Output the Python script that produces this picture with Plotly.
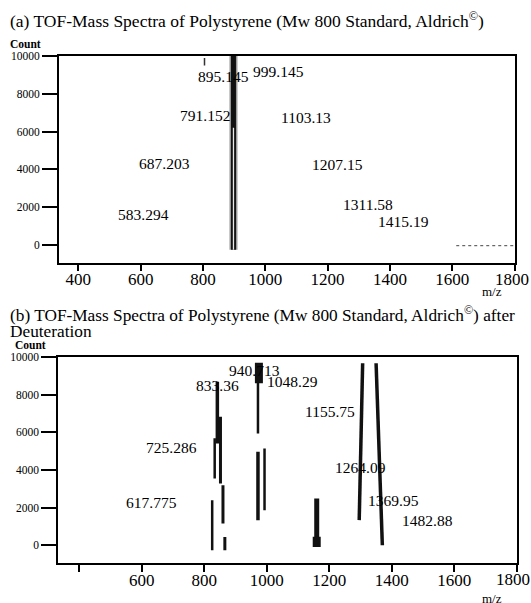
import plotly.graph_objects as go

FONT = "Liberation Serif, Times New Roman, serif"

# ---------------- data: panel (a) ----------------
a_label_text = ["583.294", "687.203", "791.152", "895.145", "999.145",
                "1103.13", "1207.15", "1311.58", "1415.19"]
a_label_mz = [608, 678, 807, 866, 1041, 1132, 1231, 1329, 1443]
a_label_count = [1590, 4290, 6830, 8900, 9170, 6720, 4270, 2150, 1230]

a_peak_mz = [898]
a_peak_top = [10000]
a_peak_split = [6200]
a_peak_bottom = [-250]

a_mark_mz = [805]
a_mark_count = [9900, 9500]

a_noise_mz = [1613, 1800]
a_noise_count = [-37, -37]

# ---------------- data: panel (b) ----------------
b_label_text = ["617.775", "725.286", "833.36", "940.713", "1048.29",
                "1155.75", "1264.09", "1369.95", "1482.88"]
b_label_mz = [630, 694, 842, 962, 1082, 1202, 1300, 1407, 1516]
b_label_count = [2270, 5200, 8510, 9270, 8690, 7130, 4130, 2360, 1330]

# vertical spectrum strokes: (m/z start, count start, m/z end, count end)
b_seg_mz0 = [842, 852, 860, 866, 833.5, 825.5, 975, 972, 972, 993, 1160, 1160, 1307, 1350]
b_seg_c0 = [8690, 6830, 3190, 440, 5680, 2390, 9700, 8620, 4960, 5140, 2480, 450, 9665, 9665]
b_seg_mz1 = [842, 852, 860, 866, 833.5, 825.5, 975, 972, 972, 993, 1160, 1160, 1296, 1370]
b_seg_c1 = [5410, 3280, 1150, -270, 3550, -270, 8600, 5940, 1330, 1860, -100, -100, 1330, 0]

x_ticks = [400, 600, 800, 1000, 1200, 1400, 1600, 1800]
x_ticktext_a = ["400", "600", "800", "1000", "1200", "1400", "1600", ""]
x_ticktext_b = ["", "600", "800", "1000", "1200", "1400", "1600", ""]
x_last_label = "1800"   # drawn separately so it stays inside the window
y_ticks = [0, 2000, 4000, 6000, 8000, 10000]
y_ticktext = ["0", "2000", "4000", "6000", "8000", "10000"]

title_a = "(a) TOF-Mass Spectra of Polystyrene (Mw 800 Standard, Aldrich<sup>©</sup>)"
title_b1 = "(b) TOF-Mass Spectra of Polystyrene (Mw 800 Standard, Aldrich<sup>©</sup>) after"
title_b2 = "Deuteration"

# ---------------- styles ----------------
b_seg_width = [3.5, 3, 3, 3, 2.5, 2.5, 8, 2.5, 3.5, 2.5, 5, 8, 3.5, 3.5]

W, H = 531, 603
fig = go.Figure()

for mz, top, split, bot in zip(a_peak_mz, a_peak_top, a_peak_split, a_peak_bottom):
    fig.add_trace(go.Scatter(x=[mz, mz], y=[bot, top], mode="lines",
                             line=dict(color="#9a9a9a", width=8),
                             xaxis="x", yaxis="y", showlegend=False, hoverinfo="skip"))
    fig.add_trace(go.Scatter(x=[mz, mz], y=[bot, top], mode="lines",
                             line=dict(color="#111111", width=5),
                             xaxis="x", yaxis="y", showlegend=False, hoverinfo="skip"))
    fig.add_trace(go.Scatter(x=[mz, mz], y=[bot, split], mode="lines",
                             line=dict(color="#e8e8e8", width=1.3),
                             xaxis="x", yaxis="y", showlegend=False, hoverinfo="skip"))

fig.add_trace(go.Scatter(x=[a_mark_mz[0], a_mark_mz[0]], y=a_mark_count, mode="lines",
                         line=dict(color="#333", width=1.5),
                         xaxis="x", yaxis="y", showlegend=False, hoverinfo="skip"))
fig.add_trace(go.Scatter(x=a_noise_mz, y=a_noise_count, mode="lines",
                         line=dict(color="#444", width=1, dash="dot"),
                         xaxis="x", yaxis="y", showlegend=False, hoverinfo="skip"))

for m0, c0, m1, c1, w in zip(b_seg_mz0, b_seg_c0, b_seg_mz1, b_seg_c1, b_seg_width):
    fig.add_trace(go.Scatter(x=[m0, m1], y=[c0, c1], mode="lines",
                             line=dict(color="#111111", width=w),
                             xaxis="x2", yaxis="y2", showlegend=False, hoverinfo="skip"))

def px_x(p):
    return p / W

def px_y(p):
    return 1 - p / H

axis_common = dict(showline=True, mirror=True, linewidth=2, linecolor="black",
                   showgrid=False, zeroline=False, ticks="outside", tickwidth=2,
                   tickcolor="black", automargin=False, ticklabeloverflow="allow")

fig.update_layout(
    template="none",
    width=W, height=H, margin=dict(l=0, r=0, t=0, b=0, pad=0),
    paper_bgcolor="white", plot_bgcolor="white",
    font=dict(family=FONT, color="black"),
    showlegend=False,
    xaxis=dict(axis_common, domain=[px_x(59), px_x(514.5)], range=[338, 1800],
               tickvals=x_ticks, ticktext=x_ticktext_a, ticklen=6, ticklabelstandoff=-6,
               tickfont=dict(size=17, family=FONT), anchor="y"),
    yaxis=dict(axis_common, domain=[px_y(262.5), px_y(56)], range=[-926, 10000],
               tickvals=y_ticks, ticktext=y_ticktext, ticklen=15,
               tickfont=dict(size=11.5, family=FONT), anchor="x"),
    xaxis2=dict(axis_common, domain=[px_x(58.3), px_x(516.7)], range=[333, 1800],
                tickvals=x_ticks, ticktext=x_ticktext_b, ticklen=7, ticklabelstandoff=-6,
                tickfont=dict(size=17, family=FONT), anchor="y2"),
    yaxis2=dict(axis_common, domain=[px_y(562.5), px_y(357)], range=[-920, 10000],
                tickvals=y_ticks, ticktext=y_ticktext, ticklen=15,
                tickfont=dict(size=11.5, family=FONT), anchor="x2"),
)

annotations = []
for t, mz, c in zip(a_label_text, a_label_mz, a_label_count):
    annotations.append(dict(x=mz, y=c, xref="x", yref="y", text=t, showarrow=False,
                            xanchor="center", yanchor="middle",
                            font=dict(size=15.5, family=FONT, color="black")))
for t, mz, c in zip(b_label_text, b_label_mz, b_label_count):
    annotations.append(dict(x=mz, y=c, xref="x2", yref="y2", text=t, showarrow=False,
                            xanchor="center", yanchor="middle",
                            font=dict(size=15.5, family=FONT, color="black")))

def paper_text(x, y, text, size, xanchor="center"):
    return dict(x=px_x(x), y=px_y(y), xref="paper", yref="paper", text=text,
                xanchor=xanchor, yanchor="middle", showarrow=False,
                font=dict(size=size, family=FONT, color="black"))

annotations += [
    paper_text(8, 19.5, title_a, 17.5, "left"),
    paper_text(8, 313.5, title_b1, 17.3, "left"),
    paper_text(8, 331, title_b2, 17.3, "left"),
    paper_text(25.5, 44, "<b>Count</b>", 11.5),
    paper_text(30, 345, "<b>Count</b>", 11.5),
    paper_text(512, 279, x_last_label, 17),
    paper_text(512.5, 579, x_last_label, 17),
    paper_text(491.7, 291, "m/z", 13),
    paper_text(491.7, 598, "m/z", 13),
]
fig.update_layout(annotations=annotations)

# let the figure fill the window exactly (no default page margin, no scrollbars)
fig.write_html(
    "out.html",
    config={"displayModeBar": False, "staticPlot": True},
    post_script="document.body.style.margin='0';document.body.style.overflow='hidden';",
)
